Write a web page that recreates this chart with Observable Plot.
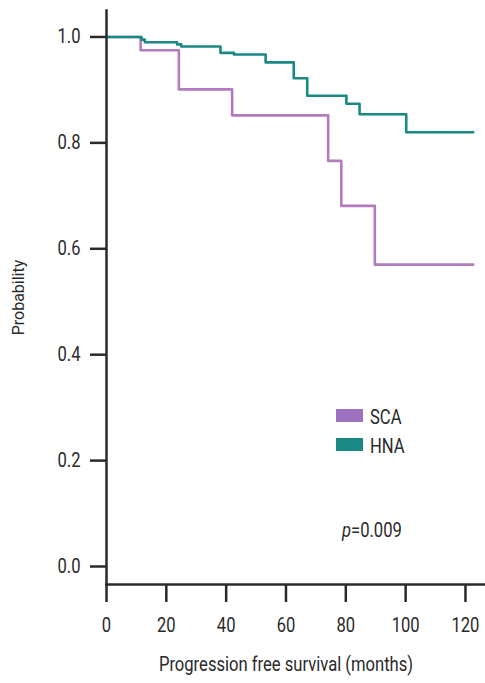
<!DOCTYPE html>
<html>
<head>
<meta charset="utf-8">
<script src="https://cdn.jsdelivr.net/npm/d3@7"></script>
<script src="https://cdn.jsdelivr.net/npm/@observablehq/plot@0.6"></script>
<style>
  html, body { margin: 0; padding: 0; background: #fff; }
  #wrap { position: relative; width: 485px; height: 683px; font-family: "Roboto", sans-serif; color: #2a2a2a; }
  .leg { position: absolute; display: flex; align-items: center; height: 20px; }
  .sw { width: 27px; height: 13px; margin-right: 7px; }
  .txt { display: inline-block; font-size: 20px; line-height: 20px; transform: scaleX(0.83); transform-origin: left center; padding-top: 3px; }
  #pval { position: absolute; font-size: 20px; line-height: 20px; transform: scaleX(0.83); transform-origin: left center; white-space: nowrap; }
</style>
</head>
<body>
<div id="wrap"></div>
<script>
const groups = ["SCA", "HNA"];
const colors = ["#b27bc0", "#1a8883"];
const legendColors = ["#9d73bf", "#1a8883"];
const scaTime = [0, 11.4, 24.2, 42, 74.1, 78.5, 89.7, 122.6];
const scaSurv = [1, 0.975, 0.901, 0.852, 0.766, 0.681, 0.570, 0.570];
const hnaTime = [0, 11.7, 12.8, 23.6, 25, 38.1, 42.6, 53.2, 62.6, 67.1, 80.2, 84.6, 100.2, 122.6];
const hnaSurv = [1, 0.995, 0.99, 0.986, 0.982, 0.970, 0.967, 0.952, 0.922, 0.889, 0.874, 0.854, 0.820, 0.820];
const xTicks = [0, 20, 40, 60, 80, 100, 120];
const yTicks = [0, 0.2, 0.4, 0.6, 0.8, 1.0];
const xLabel = "Progression free survival (months)";
const yLabel = "Probability";
const pText = "0.009";

const rows = [
  ...scaTime.map((t, i) => ({group: "SCA", t, s: scaSurv[i]})),
  ...hnaTime.map((t, i) => ({group: "HNA", t, s: hnaSurv[i]}))
];
const xMid = (xTicks[0] + xTicks[xTicks.length - 1]) / 2;

const chart = Plot.plot({
  width: 485,
  height: 683,
  marginLeft: 106,
  marginRight: 0,
  marginTop: 10,
  marginBottom: 99,
  style: {fontFamily: "Roboto, sans-serif", fontSize: "20px", color: "#2a2a2a", background: "#fff"},
  x: {domain: [0, 126.7]},
  y: {domain: [-0.034, 1.05]},
  color: {domain: groups, range: colors},
  marks: [
    Plot.line(rows, {x: "t", y: "s", z: "group", stroke: "group", curve: "step-after", strokeWidth: 2.6}),
    Plot.axisX({ticks: xTicks, tickSize: 18, tickPadding: 15, strokeWidth: 2.5, fontSize: 20, label: null}),
    Plot.axisY({ticks: yTicks, tickSize: 16, tickPadding: 10, strokeWidth: 2.5, tickFormat: d3.format(".1f"), fontSize: 20, label: null}),
    Plot.text([xLabel], {x: () => xMid, text: d => d, frameAnchor: "bottom", dy: 86, fontSize: 20}),
    Plot.text([yLabel], {text: d => d, frameAnchor: "left", textAnchor: "middle", dx: -88, rotate: -90, fontSize: 16}),
    Plot.frame({anchor: "left", strokeWidth: 2.5}),
    Plot.frame({anchor: "bottom", strokeWidth: 2.5})
  ]
});

// condense the text horizontally to mimic the narrow typeface of the original
const S = 0.83;
chart.querySelectorAll("text").forEach(el => {
  if (el.textContent === yLabel) return;
  const t = el.getAttribute("transform");
  if (t) {
    el.setAttribute("transform", t + ` scale(${S},1)`);
  } else {
    const x = +el.getAttribute("x") || 0, y = +el.getAttribute("y") || 0;
    el.removeAttribute("x"); el.removeAttribute("y");
    el.setAttribute("transform", `translate(${x},${y}) scale(${S},1)`);
  }
});

const wrap = document.getElementById("wrap");
wrap.appendChild(chart);

groups.forEach((g, i) => {
  const d = document.createElement("div");
  d.className = "leg";
  d.style.left = "336px";
  d.style.top = (405 + i * 29) + "px";
  d.innerHTML = `<div class="sw" style="background:${legendColors[i]}"></div><span class="txt">${g}</span>`;
  wrap.appendChild(d);
});
const p = document.createElement("div");
p.id = "pval";
p.style.left = "342px";
p.style.top = "520px";
p.innerHTML = `<i>p</i>=${pText}`;
wrap.appendChild(p);
</script>
</body>
</html>
